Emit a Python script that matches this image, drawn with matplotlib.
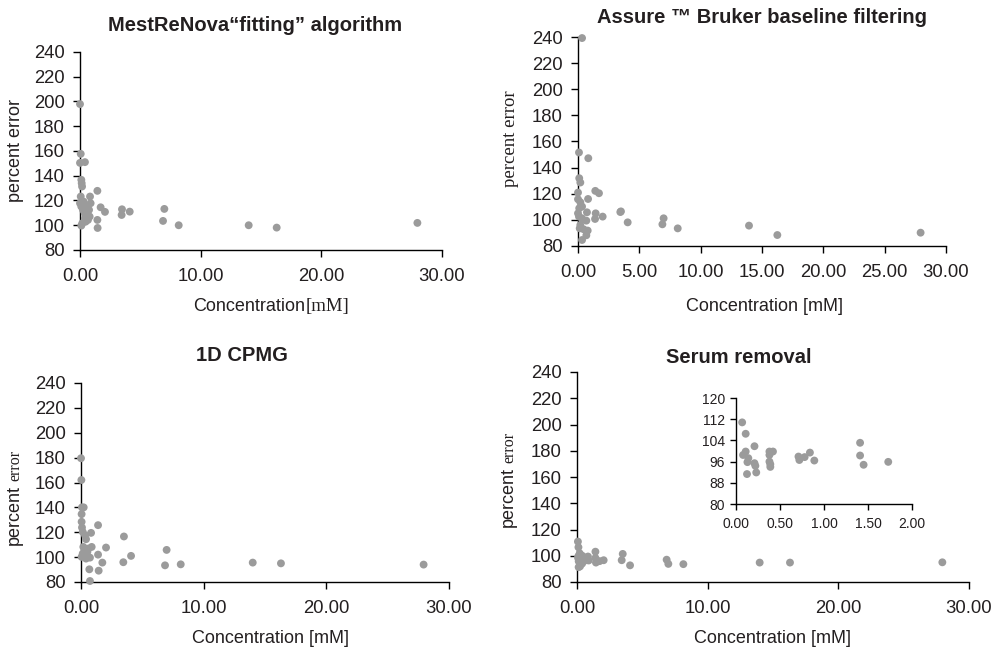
import matplotlib
matplotlib.use('Agg')
import matplotlib.pyplot as plt

W, H = 1001, 649
SANS = 'Liberation Sans'
SERIF = 'Liberation Serif'
GRIS = '#9b9b9b'
NOIR = '#231f20'

plt.rcParams['font.family'] = [SANS, 'DejaVu Sans']

# MestReNova "fitting"
mnova_conc = [0.0, 0.06, 0.0, 0.41, 0.11, 0.14, 0.17, 0.06, 0.83, 1.44, 0.88, 1.71, 2.07,
              3.48, 3.45, 4.12, 6.99, 6.88, 8.18, 13.98, 16.3, 27.96, 1.44, 1.46, 0.0, 0.11,
              0.25, 0.39, 0.52, 0.66, 0.19, 0.11, 0.47, 0.61, 0.75, 0.58, 0.30, 0.80, 0.41]
mnova_err = [197.9, 157.7, 150.4, 151.0, 136.7, 134.0, 131.3, 123.2, 123.2, 127.8, 117.8,
             114.5, 110.8, 112.9, 108.3, 111.0, 113.2, 103.5, 100.0, 100.0, 98.1, 101.9,
             104.3, 97.8, 117.8, 115.1, 112.4, 109.7, 107.0, 104.3, 101.6, 99.7, 102.9,
             109.7, 112.4, 115.6, 119.1, 107.0, 105.6]

# Assure Bruker
assure_conc = [0.33, 0.08, 0.84, 0.10, 0.19, 0.0, 1.41, 1.71, 0.82, 0.0, 0.19, 0.33, 0.10,
               0.73, 1.44, 2.01, 3.45, 3.50, 4.05, 6.98, 6.88, 8.13, 13.94, 16.25, 27.93,
               1.39, 0.68, 0.33, 0.08, 0.19, 0.46, 0.79, 0.68, 0.33, 0.14, 0.0]
assure_err = [239.2, 151.6, 147.2, 131.9, 128.6, 120.9, 122.2, 120.4, 116.0, 115.8, 113.5,
              110.2, 108.9, 105.8, 105.0, 102.5, 106.0, 106.5, 98.1, 101.2, 96.6, 93.5,
              95.6, 88.4, 90.2, 100.7, 99.4, 101.2, 102.5, 96.1, 92.8, 91.8, 88.2, 84.6,
              93.5, 105.0]

# 1D CPMG
cpmg_conc = [0.0, 0.03, 0.08, 0.22, 0.05, 0.05, 0.08, 0.14, 0.33, 0.41, 0.82, 1.39, 3.50,
             2.04, 4.08, 6.98, 6.85, 8.13, 14.0, 16.3, 27.93, 3.45, 1.39, 1.74, 1.44, 0.68,
             0.73, 0.87, 0.60, 0.33, 0.14, 0.05, 0.41, 0.73, 0.19, 0.52]
cpmg_err = [179.5, 162.0, 140.0, 140.0, 134.6, 128.4, 123.8, 120.3, 117.6, 114.4, 119.5,
            125.7, 116.6, 107.7, 101.0, 105.8, 93.4, 94.2, 95.6, 95.0, 94.0, 95.9, 102.0,
            95.6, 89.1, 90.2, 80.8, 108.2, 106.9, 105.5, 102.8, 100.2, 98.8, 99.6, 108.2,
            104.2]

# Serum removal (faibles concentrations = encart)
serum_conc_bas = [0.07, 0.11, 0.11, 0.08, 0.14, 0.13, 0.125, 0.21, 0.21, 0.22, 0.23, 0.38,
                  0.42, 0.38, 0.38, 0.39, 0.39, 0.71, 0.72, 0.78, 0.84, 0.89, 1.41, 1.41,
                  1.45, 1.73]
serum_err_bas = [110.8, 106.5, 99.8, 98.5, 97.3, 95.8, 91.3, 101.8, 95.4, 94.4, 91.9, 99.8,
                 99.8, 98.5, 96.0, 95.0, 94.0, 97.9, 96.6, 97.7, 99.4, 96.4, 103.1, 98.3,
                 94.8, 95.9]
serum_conc_haut = [2.04, 3.50, 3.42, 4.06, 6.86, 6.99, 8.14, 13.98, 16.30, 27.96]
serum_err_haut = [96.6, 101.4, 96.6, 92.7, 97.0, 93.8, 93.6, 94.8, 94.8, 95.0]

y_ticks = [80, 100, 120, 140, 160, 180, 200, 220, 240]
inset_y_ticks = [80, 88, 96, 104, 112, 120]
inset_x_ticks = [0.0, 0.5, 1.0, 1.5, 2.0]


def axes_px(fig, left, right, top, bottom):
    return fig.add_axes([left / W, 1 - bottom / H, (right - left) / W, (bottom - top) / H])


def style_axes(ax, xticks, yticks, size=13.3, length=5, xpad=8, ypad=6):
    for cote in ['top', 'right']:
        ax.spines[cote].set_visible(False)
    for cote in ['left', 'bottom']:
        ax.spines[cote].set_linewidth(1.0)
        ax.spines[cote].set_color('black')
    ax.set_xlim(xticks[0], xticks[-1])
    ax.set_ylim(yticks[0], yticks[-1])
    ax.set_xticks(xticks)
    ax.set_yticks(yticks)
    ax.set_xticklabels(['%.2f' % v for v in xticks])
    ax.tick_params(direction='out', length=length, width=1, labelsize=size,
                   labelcolor=NOIR)
    ax.tick_params(axis='x', pad=xpad)
    ax.tick_params(axis='y', pad=ypad)


def nuage(ax, x, y):
    ax.scatter(x, y, s=32, color=GRIS, edgecolors='none', zorder=3, clip_on=False)


def texte_mixte(fig, xc, yc, parts, vertical=False, gap=0):
    # parts : liste de (texte, dict de police) ; xc, yc en pixels (origine en haut)
    renderer = fig.canvas.get_renderer()
    textes = []
    for s, kw in parts:
        t = fig.text(0, 0, s, rotation=90 if vertical else 0, rotation_mode='anchor',
                     ha='left', va='baseline', color=NOIR, **kw)
        textes.append(t)
    longueurs = []
    for t in textes:
        bb = t.get_window_extent(renderer)
        longueurs.append(bb.height if vertical else bb.width)
    total = sum(longueurs) + gap * (len(textes) - 1)
    cum = 0
    for t, l in zip(textes, longueurs):
        if vertical:
            y = yc + total / 2 - cum
            t.set_position((xc / W, 1 - y / H))
        else:
            x = xc - total / 2 + cum
            t.set_position((x / W, 1 - yc / H))
        cum += l + gap


fig = plt.figure(figsize=(W / 100, H / 100), dpi=100)

sans = dict(family=SANS, size=13)
serif = dict(family=SERIF, size=13.5)
petit_serif = dict(family=SERIF, size=11.5)
titre = dict(family=SANS, size=14.5, weight='bold')

# panneau 1
ax1 = axes_px(fig, 80, 442, 52, 250)
style_axes(ax1, [0, 10, 20, 30], y_ticks)
nuage(ax1, mnova_conc, mnova_err)

# panneau 2
ax2 = axes_px(fig, 578, 946, 37, 246)
style_axes(ax2, [0, 5, 10, 15, 20, 25, 30], y_ticks)
nuage(ax2, assure_conc, assure_err)

# panneau 3
ax3 = axes_px(fig, 81, 449, 383, 582)
style_axes(ax3, [0, 10, 20, 30], y_ticks)
nuage(ax3, cpmg_conc, cpmg_err)

# panneau 4
ax4 = axes_px(fig, 577, 969, 372, 582)
style_axes(ax4, [0, 10, 20, 30], y_ticks)
nuage(ax4, serum_conc_bas + serum_conc_haut, serum_err_bas + serum_err_haut)

# encart
axi = axes_px(fig, 736, 912, 398, 504)
style_axes(axi, inset_x_ticks, inset_y_ticks, size=10, length=4, xpad=5, ypad=4)
nuage(axi, serum_conc_bas, serum_err_bas)

# titres
texte_mixte(fig, 255, 31, [('MestReNova\u201cfitting\u201d algorithm', titre)])
texte_mixte(fig, 762, 23, [('Assure \u2122 Bruker baseline filtering', titre)])
texte_mixte(fig, 242, 361, [('1D CPMG', titre)])
texte_mixte(fig, 739, 363, [('Serum removal', titre)])

# axes x
texte_mixte(fig, 271, 311, [('Concentration', sans), ('[mM]', serif)], gap=1)
texte_mixte(fig, 765, 311, [('Concentration [mM]', sans)])
texte_mixte(fig, 271, 643, [('Concentration [mM]', sans)])
texte_mixte(fig, 773, 643, [('Concentration [mM]', sans)])

# axes y
texte_mixte(fig, 20, 150, [('percent error', sans)], vertical=True)
texte_mixte(fig, 515, 139, [('percent error', serif)], vertical=True)
texte_mixte(fig, 19, 497, [('percent', sans), ('error', petit_serif)], vertical=True, gap=4)
texte_mixte(fig, 513, 479, [('percent', sans), ('error', petit_serif)], vertical=True, gap=4)

fig.savefig('out.png', dpi=100)
